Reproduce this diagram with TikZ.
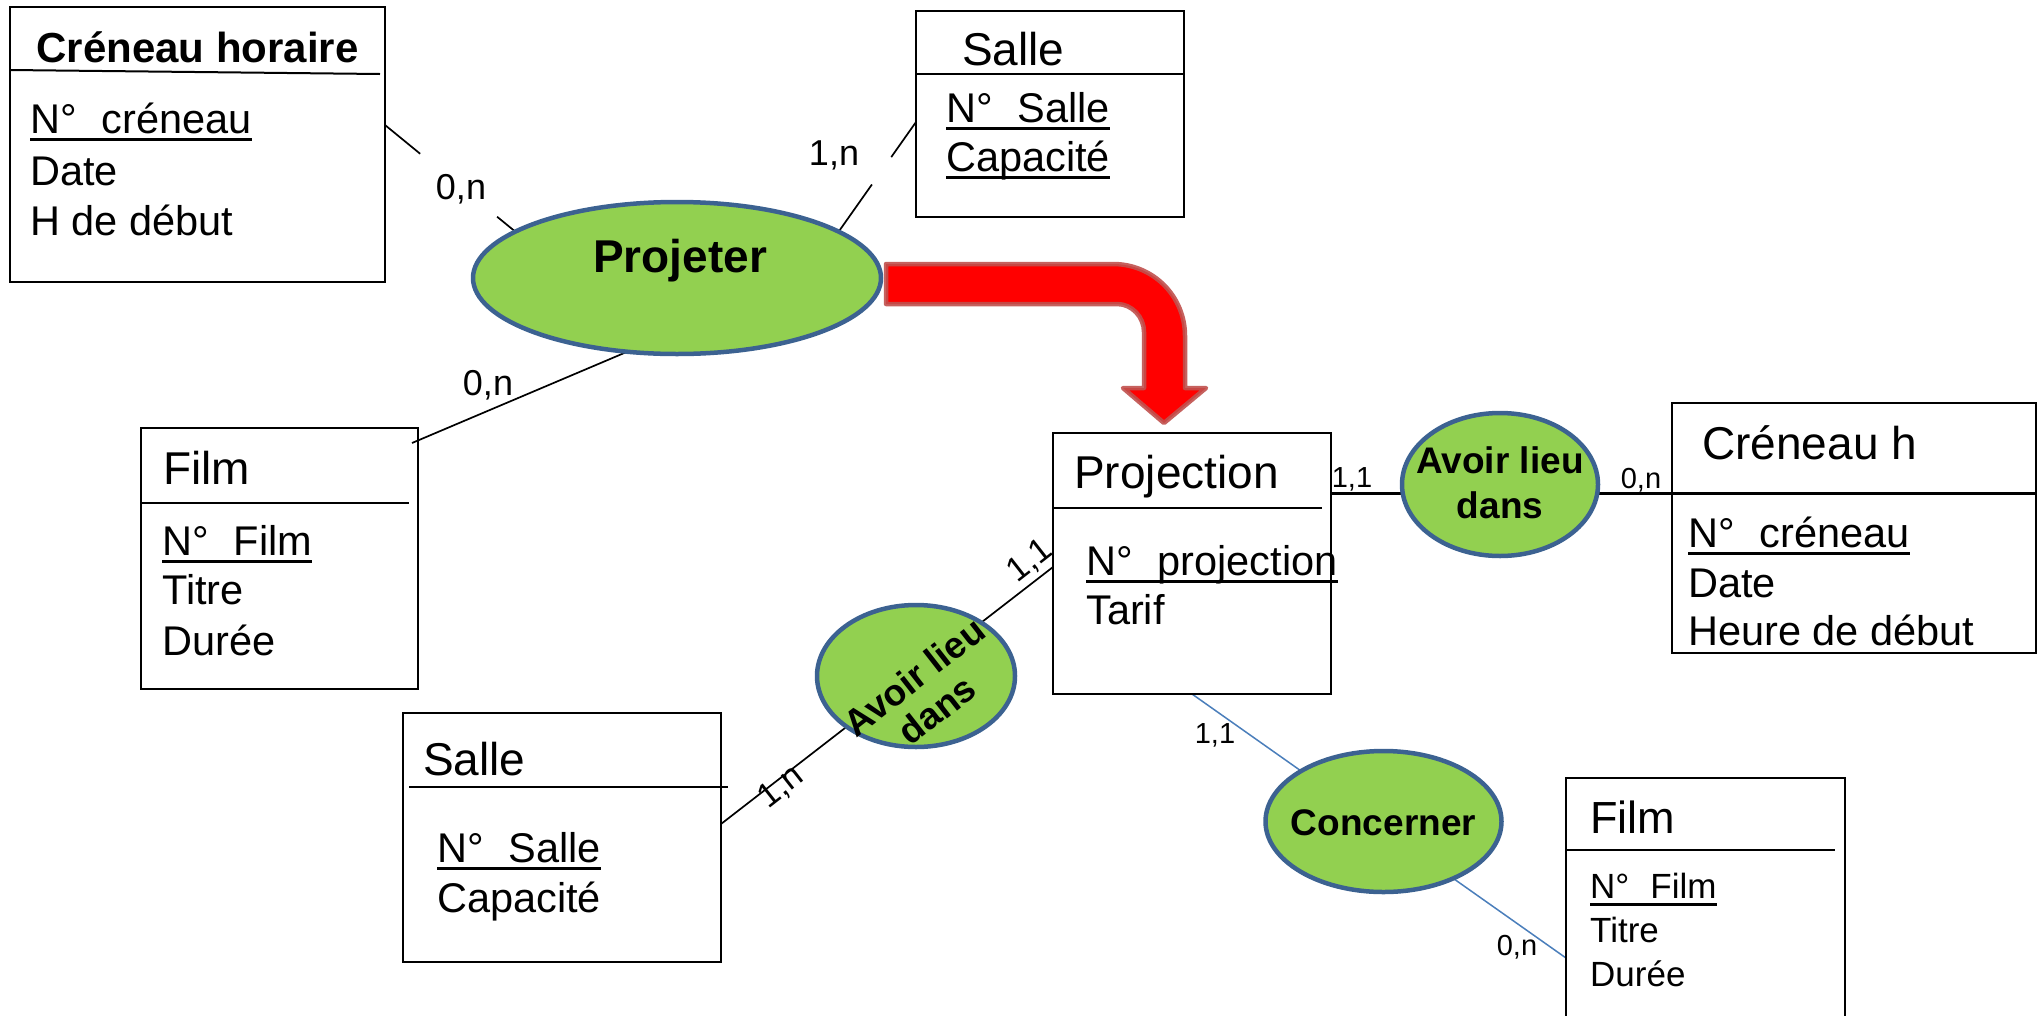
\documentclass[tikz,border=0pt]{standalone}
\usepackage{fontspec}
\setmainfont{Liberation Sans}
\usetikzlibrary{shapes.geometric,calc}
\definecolor{assocgreen}{HTML}{92D050}
\definecolor{assocborder}{HTML}{3C6291}
\definecolor{arrowred}{HTML}{FF0000}
\definecolor{arrowborder}{HTML}{C0504D}
\definecolor{bluelink}{HTML}{4A7EBB}
\pgfdeclarelayer{links}
\pgfsetlayers{links,main}
% underlined identifier (key attribute)
\newcommand\ulkey[1]{\setbox0\hbox{#1}\rlap{\rule[-7.5pt]{\wd0}{3pt}}\box0}
\newcommand\nsp{\hspace{0.6em}}
\begin{document}
\begin{tikzpicture}[x=1pt,y=-1pt,
  entity/.style={rectangle, draw, line width=2pt, inner sep=0, outer sep=0},
  assoc/.style={ellipse, draw=assocborder, line width=4.5pt, fill=assocgreen, inner sep=0, outer sep=0},
  txt/.style={anchor=base west, inner sep=0},
  ttl/.style={txt, font=\fontsize{46}{55}\selectfont},
  att/.style={txt, font=\fontsize{41.5}{49}\selectfont},
  smallatt/.style={txt, font=\fontsize{35}{42}\selectfont},
  sepline/.style={line width=2pt},
  link/.style={line width=1.7pt},
  card/.style={anchor=base, inner sep=0, font=\fontsize{36}{43}\selectfont},
  smallcard/.style={anchor=base, inner sep=0, font=\fontsize{29}{35}\selectfont},
  tiltcard/.style={anchor=center, inner sep=0, rotate=38, font=\fontsize{34}{40}\selectfont},
  atext/.style={anchor=base, inner sep=0, font=\bfseries\fontsize{37}{42}\selectfont}]
\useasboundingbox (0,0) rectangle (2040,1015);

% ---------- entities ----------
\node[entity, minimum width=375pt, minimum height=275pt] (ch) at (197.5,144.5) {};
\node[entity, minimum width=268pt, minimum height=206pt] (s1) at (1050,114) {};
\node[entity, minimum width=277pt, minimum height=261pt] (f1) at (279.5,558.5) {};
\node[entity, minimum width=318pt, minimum height=249pt] (s2) at (562,837.5) {};
\node[entity, minimum width=278pt, minimum height=261pt] (pr) at (1192,563.5) {};
\node[entity, minimum width=364pt, minimum height=250pt] (c2) at (1854,528) {};
\node[entity, minimum width=279pt, minimum height=252pt] (f2) at (1705.5,904) {};

% ---------- associations ----------
\node[assoc, minimum width=408pt, minimum height=152pt] (pj) at (677,278) {};
\node[assoc, minimum width=196pt, minimum height=143pt] (a1) at (1500,484.5) {};
\node[assoc, minimum width=198pt, minimum height=142pt] (a2) at (916,676) {};
\node[assoc, minimum width=236pt, minimum height=141pt] (cc) at (1383.5,821.5) {};

\node[anchor=base, inner sep=0, font=\bfseries\fontsize{46}{55}\selectfont] at (680,272) {Projeter};
\node[atext] at (1500,473) {Avoir lieu};
\node[atext] at (1500,518) {dans};
\node[atext, rotate=38] at (922,687) {Avoir lieu};
\node[atext, rotate=38] at (945,720) {dans};
\node[atext] at (1383.5,835) {Concerner};

% ---------- connectors (behind the ellipses) ----------
\coordinate (chA) at ([yshift=19.5pt]ch.east);
\coordinate (s1A) at ([yshift=-8pt]s1.west);
\coordinate (f1A) at ([shift={(-6pt,-15pt)}]f1.north east);
\begin{pgfonlayer}{links}
  % Creneau horaire -- Projeter
  \draw[link] (chA) -- ($(chA)!0.27!(pj.164)$) ($(chA)!0.86!(pj.164)$) -- (pj.164);
  % Salle -- Projeter
  \draw[link] (s1A) -- ($(s1A)!0.32!(pj.16)$) ($(s1A)!0.57!(pj.16)$) -- (pj.16);
  % Film -- Projeter
  \draw[link] (f1A) -- (pj.236);
  % Projection -- Avoir lieu dans -- Creneau h
  \draw[line width=3pt] ([yshift=70.5pt]pr.east) -- ([yshift=35pt]c2.east);
  % Salle -- Avoir lieu dans -- Projection
  \draw[link] ([yshift=13.5pt]s2.east) -- ([yshift=-3.5pt]pr.west);
  % Projection -- Concerner -- Film
  \draw[bluelink, line width=1.5pt] (pr.south) -- ([yshift=-54pt]f2.west);
\end{pgfonlayer}

% ---------- cardinalities ----------
\node[card] at (461,199) {0,n};
\node[card] at (834,165) {1,n};
\node[card] at (488,395) {0,n};
\node[smallcard] at (1352,487) {1,1};
\node[smallcard] at (1641,488) {0,n};
\node[tiltcard] at (781,787) {1,n};
\node[tiltcard] at (1030,561) {1,1};
\node[smallcard] at (1215,743) {1,1};
\node[smallcard] at (1517,955) {0,n};

% ---------- transformation arrow ----------
\draw[fill=arrowred, draw=arrowborder, draw opacity=0.9, line width=4.5pt, line join=round]
  (886,264) -- (1113,264) .. controls (1153,264) and (1185,296) .. (1185,336)
  -- (1185,388) -- (1206,388) -- (1164,423) -- (1123,388) -- (1144,388)
  -- (1144,332) .. controls (1144,317) and (1132,304) .. (1117,304)
  -- (886,304) -- cycle;

% ---------- Creneau horaire ----------
\node[anchor=base, inner sep=0, font=\bfseries\fontsize{42}{50}\selectfont] at (197.5,62) {Créneau horaire};
\draw[sepline] (10,70) -- (380,74);
\node[att] at (30,133) {\ulkey{N°\nsp créneau}};
\node[att] at (30,185) {Date};
\node[att] at (30,235) {H de début};

% ---------- Salle (top) ----------
\node[ttl] at (962,65) {Salle};
\draw[sepline] (916,74) -- (1184,74);
\node[att] at (946,122) {\ulkey{N°\nsp Salle}};
\node[att] at (946,171) {\ulkey{Capacité}};

% ---------- Film (left) ----------
\node[ttl] at (163,484) {Film};
\draw[sepline] (141,503) -- (409,503);
\node[att] at (162,555) {\ulkey{N°\nsp Film}};
\node[att] at (162,604) {Titre};
\node[att] at (162,655) {Durée};

% ---------- Salle (bottom) ----------
\node[ttl] at (423,775) {Salle};
\draw[sepline] (409,787) -- (728,787);
\node[att] at (437,862) {\ulkey{N°\nsp Salle}};
\node[att] at (437,912) {Capacité};

% ---------- Projection ----------
\node[ttl] at (1074,488) {Projection};
\draw[sepline] (1053,508) -- (1322,508);
\node[att] at (1086,575) {\ulkey{N°\nsp projection}};
\node[att] at (1086,624) {Tarif};

% ---------- Creneau h ----------
\node[ttl] at (1702,459) {Créneau h};
\node[att] at (1688,547) {\ulkey{N°\nsp créneau}};
\node[att] at (1688,597) {Date};
\node[att] at (1688,645) {Heure de début};

% ---------- Film (bottom right) ----------
\node[txt, font=\fontsize{45}{54}\selectfont] at (1590,833) {Film};
\draw[sepline] (1566,850) -- (1835,850);
\node[smallatt] at (1590,898) {\ulkey{N°\nsp Film}};
\node[smallatt] at (1590,942) {Titre};
\node[smallatt] at (1590,986) {Durée};
\end{tikzpicture}
\end{document}
